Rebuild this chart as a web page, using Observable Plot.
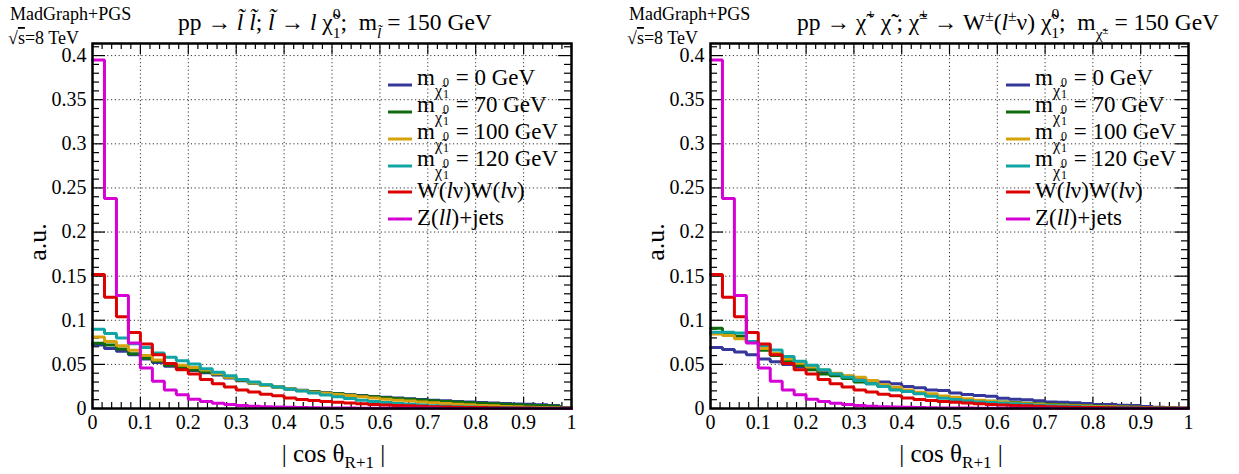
<!DOCTYPE html>
<html><head><meta charset="utf-8">
<script src="https://cdn.jsdelivr.net/npm/d3@7"></script>
<script src="https://cdn.jsdelivr.net/npm/@observablehq/plot@0.6"></script>
<style>
body{margin:0;background:#fff;}
#wrap{position:relative;width:1239px;height:474px;display:flex;}
svg{display:block}
text{white-space:pre}
</style></head><body><div id="wrap"></div>
<script>
const FONT = "'Liberation Serif', 'DejaVu Serif', serif";
const binWidth = 0.025;
const xTicks = [0, 0.1, 0.2, 0.3, 0.4, 0.5, 0.6, 0.7, 0.8, 0.9, 1];
const yTicks = [0, 0.05, 0.1, 0.15, 0.2, 0.25, 0.3, 0.35, 0.4];
const yMax = 0.4137;
const colors = ["#35379a", "#0d6b0d", "#d6a20c", "#10a5a5", "#dc0000", "#d400d4"];
const massLabels = ["0", "70", "100", "120"];

// Left panel: slepton pair, m(slepton) = 150 GeV
const slepM0   = [0.072, 0.068, 0.065, 0.061, 0.056, 0.052, 0.048, 0.045, 0.043, 0.0405, 0.038, 0.0345, 0.0315, 0.0287, 0.0262, 0.0241, 0.0222, 0.0206, 0.0192, 0.0179, 0.0167, 0.0156, 0.0146, 0.0136, 0.0127, 0.0118, 0.011, 0.0102, 0.0094, 0.0087, 0.008, 0.0074, 0.0068, 0.0062, 0.0057, 0.0052, 0.0047, 0.0042, 0.0035, 0.0008];
const slepM70  = [0.074, 0.072, 0.0675, 0.062, 0.057, 0.0535, 0.049, 0.0465, 0.044, 0.0415, 0.039, 0.035, 0.032, 0.029, 0.0265, 0.0243, 0.0222, 0.0205, 0.019, 0.0177, 0.0166, 0.0154, 0.0143, 0.0133, 0.0123, 0.0113, 0.0104, 0.0095, 0.0087, 0.008, 0.0073, 0.0066, 0.006, 0.0054, 0.0048, 0.0043, 0.0038, 0.0033, 0.0027, 0.0007];
const slepM100 = [0.081, 0.076, 0.071, 0.066, 0.060, 0.055, 0.051, 0.049, 0.0465, 0.0435, 0.0395, 0.0355, 0.0325, 0.029, 0.026, 0.024, 0.022, 0.020, 0.0185, 0.0172, 0.016, 0.0147, 0.0133, 0.0118, 0.0106, 0.0094, 0.0084, 0.0075, 0.0065, 0.0057, 0.0049, 0.0042, 0.0035, 0.003, 0.0024, 0.0019, 0.0015, 0.0011, 0.0008, 0.0004];
const slepM120 = [0.0898, 0.085, 0.080, 0.0735, 0.069, 0.063, 0.058, 0.054, 0.0505, 0.045, 0.041, 0.037, 0.033, 0.030, 0.027, 0.0245, 0.0218, 0.0197, 0.0176, 0.0152, 0.0132, 0.0112, 0.0094, 0.0079, 0.0067, 0.0056, 0.0047, 0.0039, 0.0032, 0.0026, 0.0021, 0.0017, 0.0014, 0.0011, 0.0009, 0.0007, 0.0005, 0.0004, 0.0003, 0.0002];

// Right panel: chargino pair, m(chargino) = 150 GeV
const charM0   = [0.069, 0.067, 0.064, 0.061, 0.056, 0.053, 0.050, 0.047, 0.045, 0.042, 0.039, 0.0365, 0.0336, 0.0317, 0.030, 0.028, 0.025, 0.0234, 0.021, 0.0204, 0.0177, 0.0158, 0.0147, 0.014, 0.0117, 0.0106, 0.0098, 0.0087, 0.0075, 0.0072, 0.0064, 0.0057, 0.0045, 0.0045, 0.0038, 0.0034, 0.0023, 0.0015, 0.0008, 0.0004];
const charM70  = [0.091, 0.0857, 0.082, 0.075, 0.066, 0.060, 0.0536, 0.0487, 0.0438, 0.039, 0.037, 0.034, 0.030, 0.028, 0.025, 0.023, 0.0192, 0.0174, 0.015, 0.0135, 0.012, 0.0102, 0.009, 0.0083, 0.0075, 0.0068, 0.006, 0.0053, 0.0047, 0.0042, 0.0037, 0.0032, 0.0028, 0.0024, 0.002, 0.0016, 0.0012, 0.0009, 0.0006, 0.0003];
const charM100 = [0.0845, 0.0826, 0.079, 0.075, 0.068, 0.0626, 0.056, 0.0513, 0.047, 0.0435, 0.040, 0.037, 0.0355, 0.0317, 0.027, 0.024, 0.021, 0.0185, 0.0166, 0.0143, 0.0128, 0.011, 0.0094, 0.0083, 0.0072, 0.0062, 0.0054, 0.0047, 0.0041, 0.0036, 0.0031, 0.0027, 0.0023, 0.0019, 0.0016, 0.0013, 0.001, 0.0007, 0.0005, 0.0003];
const charM120 = [0.0864, 0.0864, 0.0857, 0.076, 0.0713, 0.0664, 0.059, 0.0536, 0.049, 0.044, 0.039, 0.0355, 0.0317, 0.028, 0.025, 0.021, 0.0192, 0.0166, 0.014, 0.0117, 0.0102, 0.0087, 0.0075, 0.0068, 0.006, 0.0053, 0.0045, 0.0038, 0.0032, 0.0027, 0.0022, 0.0018, 0.0015, 0.0012, 0.001, 0.0008, 0.0006, 0.0004, 0.0003, 0.0002];

// Backgrounds (same in both panels)
const wwBkg   = [0.152, 0.126, 0.104, 0.086, 0.073, 0.061, 0.051, 0.044, 0.039, 0.033, 0.028, 0.0245, 0.021, 0.0188, 0.0162, 0.0145, 0.0118, 0.0102, 0.009, 0.008, 0.007, 0.0062, 0.0054, 0.0046, 0.004, 0.0035, 0.003, 0.0025, 0.0021, 0.0018, 0.0015, 0.0012, 0.001, 0.0008, 0.0007, 0.0006, 0.0005, 0.0004, 0.0003, 0.0002];
const zjetsBkg = [0.395, 0.238, 0.128, 0.0743, 0.046, 0.031, 0.021, 0.0155, 0.0105, 0.008, 0.006, 0.0045, 0.0034, 0.0026, 0.002, 0.0016, 0.0013, 0.001, 0.0008, 0.0007, 0.0006, 0.0005, 0.0004, 0.0004, 0.0003, 0.0003, 0.0002, 0.0002, 0.0002, 0.0001, 0.0001, 0.0001, 0.0001, 0.0001, 0.0001, 0.0001, 0.0001, 0.0001, 0.0001, 0.0001];

function histRows(vals) {
  const rows = vals.map((v, i) => ({x: i * binWidth, y: v}));
  rows.push({x: vals.length * binWidth, y: vals[vals.length - 1]});
  return rows;
}

function rich(sel, x, y, size, parts, anchor) {
  const t = sel.append("text").attr("x", x).attr("y", y).attr("font-size", size)
    .attr("font-family", FONT).attr("fill", "#000").attr("text-anchor", anchor || "start");
  let cur = 0;
  for (const p of parts) {
    const ts = t.append("tspan").text(p.t);
    const shift = p.shift || 0;
    if (shift !== cur) { ts.attr("dy", shift - cur); cur = shift; }
    if (p.dx) ts.attr("dx", p.dx);
    if (p.size) ts.attr("font-size", p.size);
    if (p.it) ts.attr("font-style", "italic");
    if (p.over) ts.attr("text-decoration", "overline");
  }
  return t;
}

function panel(series, width, marginLeft, marginRight, titleParts) {
  const H = 474, mT = 43, mB = 66;
  const innerH = H - mT - mB, innerW = width - marginLeft - marginRight;
  const yPx = yMax / innerH, xPx = 1 / innerW;
  const xMinor = d3.range(0, 51).map(i => i / 50);
  const yMinor = d3.range(0, 42).map(i => i / 100);
  const isMajX = d => Math.abs(d * 10 - Math.round(d * 10)) < 1e-6;
  const isMajY = d => Math.abs(d * 20 - Math.round(d * 20)) < 1e-6;
  const tick = {stroke: "#000", strokeWidth: 1.2};
  const marks = [
    Plot.ruleX(xTicks.slice(1, -1), {x: d => d, stroke: "#000", strokeWidth: 1, strokeDasharray: "1.2,2.6", strokeOpacity: 0.8}),
    Plot.ruleY(yTicks.slice(1), {y: d => d, stroke: "#000", strokeWidth: 1, strokeDasharray: "1.2,2.6", strokeOpacity: 0.8}),
    Plot.ruleX(xMinor, {x: d => d, y1: 0, y2: d => (isMajX(d) ? 11 : 6) * yPx, ...tick}),
    Plot.ruleX(xMinor, {x: d => d, y1: yMax, y2: d => yMax - (isMajX(d) ? 11 : 6) * yPx, ...tick}),
    Plot.ruleY(yMinor, {y: d => d, x1: 0, x2: d => (isMajY(d) ? 13 : 7) * xPx, ...tick}),
    Plot.ruleY(yMinor, {y: d => d, x1: 1, x2: d => 1 - (isMajY(d) ? 13 : 7) * xPx, ...tick}),
    Plot.axisX({ticks: xTicks, tickSize: 0, tickPadding: 6, fontSize: 20, fontFamily: FONT,
      tickFormat: d => (d === 0 ? "0" : d === 1 ? "1" : d3.format(".1f")(d))}),
    Plot.axisY({ticks: yTicks, tickSize: 0, tickPadding: 6, fontSize: 20, fontFamily: FONT,
      tickFormat: d => (d === 0 ? "0" : String(+d.toFixed(2)))}),
  ];
  series.forEach((vals, k) => {
    marks.push(Plot.line(histRows(vals), {x: "x", y: "y", curve: "step-after",
      stroke: colors[k], strokeWidth: 3, strokeLinejoin: "miter"}));
  });
  marks.push(Plot.frame({stroke: "#000", strokeWidth: 2.5}));
  const svgEl = Plot.plot({
    width, height: H, marginLeft, marginRight, marginTop: mT, marginBottom: mB,
    style: {fontFamily: FONT, fontSize: "20px", color: "#000", background: "transparent", overflow: "visible"},
    x: {domain: [0, 1], label: null},
    y: {domain: [0, yMax], label: null},
    marks
  });
  const svg = d3.select(svgEl);
  svg.attr("font-family", FONT);
  svg.selectAll("text").attr("font-family", FONT).attr("font-variant", "normal");
  // Header text
  rich(svg, 10, 20, 18, [{t: "MadGraph+PGS"}]);
  rich(svg, 8, 44, 18, [{t: "√"}, {t: "s", over: true}, {t: "=8 TeV"}]);
  rich(svg, 178, 30, 23.5, titleParts);
  // Axis titles
  svg.append("text").attr("transform", `translate(${marginLeft - 46},242) rotate(-90)`)
    .attr("text-anchor", "middle").attr("font-size", 26).attr("font-family", FONT).text("a.u.");
  rich(svg, marginLeft + innerW / 2 + 2, 462, 25,
    [{t: "| cos θ"}, {t: "R+1", shift: 6, size: 17}, {t: " |", shift: 0}], "middle");
  // Legend
  const lg = svg.append("g");
  const lineY = [85, 112, 139, 166, 192, 219];
  const x0 = marginLeft + 296, x1 = marginLeft + 320, tx = marginLeft + 325;
  lineY.forEach((y, i) => {
    lg.append("line").attr("x1", x0).attr("x2", x1).attr("y1", y).attr("y2", y)
      .attr("stroke", colors[i]).attr("stroke-width", 3);
  });
  massLabels.forEach((m, i) => {
    rich(lg, tx, lineY[i], 23, [
      {t: "m"}, {t: "χ̃", shift: 11, size: 16}, {t: "0", shift: 1, size: 12, dx: 1},
      {t: "1", shift: 13, size: 12, dx: -6}, {t: ` = ${m} GeV`, shift: 0, dx: 1}
    ]);
  });
  rich(lg, tx, lineY[4] + 6, 23, [{t: "W("}, {t: "l", it: true}, {t: "ν)W("}, {t: "l", it: true}, {t: "ν)"}]);
  rich(lg, tx, lineY[5] + 6, 23, [{t: "Z("}, {t: "ll", it: true}, {t: ")+jets"}]);
  return svgEl;
}

const S = 15.5;
const titleLeft = [
  {t: "pp → "}, {t: "l̃ l̃", it: true}, {t: "; "}, {t: "l̃", it: true}, {t: " → "}, {t: "l", it: true},
  {t: " χ̃"}, {t: "0", shift: -11, size: S}, {t: "1", shift: 8, size: S, dx: -7.8},
  {t: ";  m", shift: 0}, {t: "l̃", it: true, shift: 8, size: S}, {t: " = 150 GeV", shift: 0}
];
const titleRight = [
  {t: "pp → χ̃"}, {t: "+", shift: -11, size: S}, {t: " χ̃", shift: 0}, {t: "-", shift: -11, size: S},
  {t: "; χ̃", shift: 0}, {t: "±", shift: -11, size: S}, {t: " → W", shift: 0}, {t: "±", shift: -9, size: S},
  {t: "(", shift: 0}, {t: "l", it: true}, {t: "±", shift: -9, size: S}, {t: "ν) χ̃", shift: 0},
  {t: "0", shift: -11, size: S}, {t: "1", shift: 8, size: S, dx: -7.8},
  {t: ";  m", shift: 0}, {t: "χ̃", shift: 9, size: S}, {t: "±", shift: 4, size: 11}, {t: " = 150 GeV", shift: 0}
];

const wrap = document.getElementById("wrap");
wrap.appendChild(panel([slepM0, slepM70, slepM100, slepM120, wwBkg, zjetsBkg], 619, 92, 48, titleLeft));
wrap.appendChild(panel([charM0, charM70, charM100, charM120, wwBkg, zjetsBkg], 620, 91, 51, titleRight));
</script>
</body></html>
